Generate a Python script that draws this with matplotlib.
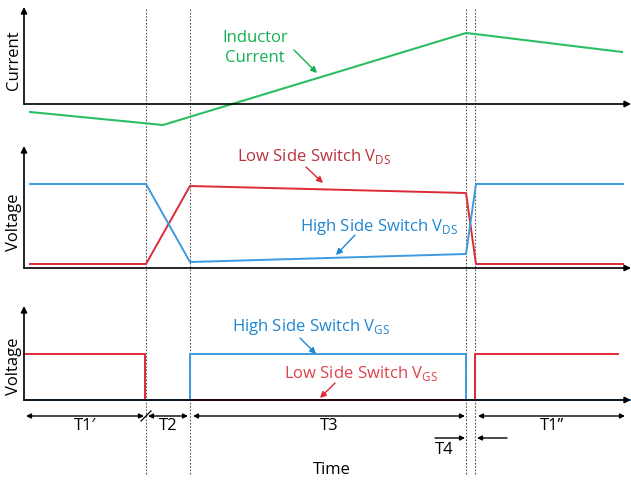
import matplotlib.pyplot as plt

# timing diagram, drawn in pixel space (x = time, y = screen row)
edge_times = [146, 190, 466, 475]

current_t = [30, 163, 466, 475, 622]
current_y = [113, 126, 34, 35, 53]

vds_t = [30, 146, 190, 466, 476, 623]
hs_vds = [185, 185, 263, 255, 185, 185]
ls_vds = [265, 265, 187, 194, 265, 265]

ls_vgs_t = [24, 145, 145, 475, 475, 618]
ls_vgs = [355, 355, 401, 401, 355, 355]
hs_vgs_t = [24, 190, 190, 466, 466, 630]
hs_vgs = [401, 401, 355, 355, 401, 401]

# (start, end, label) for the interval arrows
spans = [(26, 144, "T1\u2032"), (148, 188, "T2"), (193, 465, "T3"), (478, 625, "T1\u2019\u2019")]

GREEN = "#2dbe63"
GREEN_TXT = "#12b04f"
BLUE = "#3d9ae0"
BLUE_TXT = "#1f86d2"
RED = "#dc2a36"
RED_DARK = "#b8333e"
RED_TXT = "#e0424c"
FS = 12

plt.rcParams["font.family"] = ["Open Sans", "DejaVu Sans"]

fig = plt.figure(figsize=(6.31, 4.81), dpi=100)
ax = fig.add_axes([0, 0, 1, 1])
ax.set_xlim(0, 631)
ax.set_ylim(481, 0)
ax.axis("off")

def arrow(x0, y0, x1, y1, color="black", style="-|>", lw=1.0, ms=9):
    ax.annotate("", xy=(x1, y1), xytext=(x0, y0),
                arrowprops=dict(arrowstyle=style, color=color, lw=lw,
                                mutation_scale=ms, shrinkA=0, shrinkB=0))

# panel axes
for top, base in [(8, 105), (147, 269), (307, 401)]:
    arrow(24, base, 24, top, lw=1.2)
    arrow(24, base, 631, base, lw=1.2)

# dotted edge markers
for t in edge_times:
    ax.plot([t, t], [10, 475], color="#555555", lw=0.8, ls=(0, (1.5, 1.5)))

# traces
ax.plot(current_t, current_y, color=GREEN, lw=1.5)
ax.plot(vds_t, ls_vds, color=RED, lw=1.4)
ax.plot(vds_t, hs_vds, color=BLUE, lw=1.4)
ax.plot(ls_vgs_t, ls_vgs, color=RED, lw=1.4)
ax.plot(hs_vgs_t, hs_vgs, color=BLUE, lw=1.4)

# axis titles
ax.text(14, 60, "Current", rotation=90, ha="center", va="center", fontsize=FS)
ax.text(14, 222, "Voltage", rotation=90, ha="center", va="center", fontsize=FS)
ax.text(14, 366, "Voltage", rotation=90, ha="center", va="center", fontsize=FS)
ax.text(332, 470, "Time", ha="center", va="center", fontsize=FS)

# callouts
ax.text(255, 48, "Inductor\nCurrent", color=GREEN_TXT, ha="center", va="center",
        fontsize=FS, linespacing=1.25)
arrow(294, 51, 317, 74, color=GREEN_TXT)

ax.text(237, 157, "Low Side Switch V$_{\\mathregular{DS}}$", color=RED_DARK,
        ha="left", va="center", fontsize=FS)
arrow(306, 168, 323, 184, color=RED)

ax.text(300, 227, "High Side Switch V$_{\\mathregular{DS}}$", color=BLUE_TXT,
        ha="left", va="center", fontsize=FS)
arrow(355, 236, 336, 256, color=BLUE_TXT)

ax.text(232, 327, "High Side Switch V$_{\\mathregular{GS}}$", color=BLUE_TXT,
        ha="left", va="center", fontsize=FS)
arrow(300, 339, 316, 355, color=BLUE_TXT)

ax.text(284, 374, "Low Side Switch V$_{\\mathregular{GS}}$", color=RED_TXT,
        ha="left", va="center", fontsize=FS)
arrow(335, 384, 320, 399, color=RED)

# interval arrows
for start, end, label in spans:
    arrow(start, 417, end, 417, style="<|-|>", ms=7)
    ax.text((start + end) / 2, 426, label, ha="center", va="center", fontsize=FS)
ax.plot([141, 151], [422, 412], color="black", lw=0.9)

arrow(435, 439, 465, 439, ms=7)
arrow(507, 439, 477, 439, ms=7)
ax.text(444, 450, "T4", ha="center", va="center", fontsize=FS)

fig.savefig("out.png", dpi=100)
